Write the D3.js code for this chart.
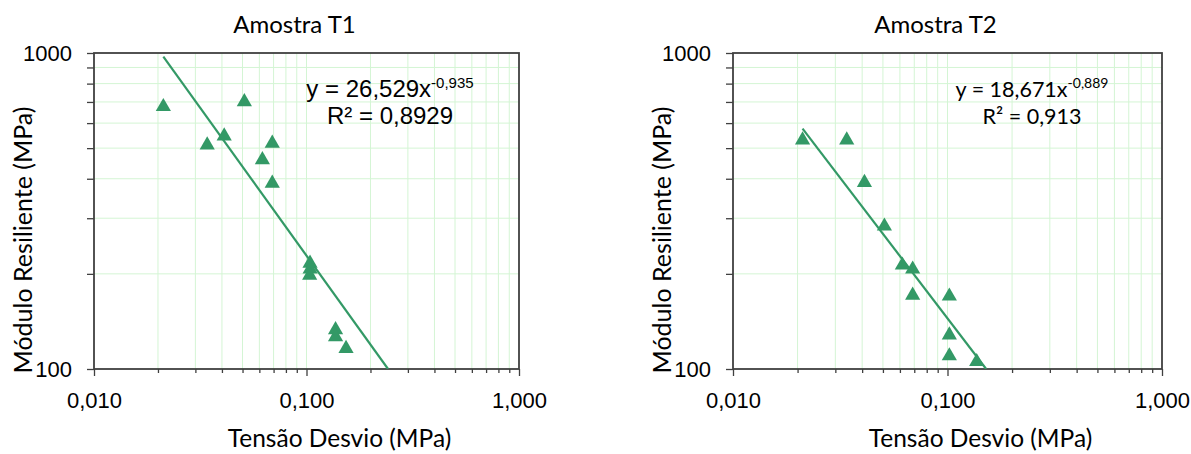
<!DOCTYPE html>
<html>
<head>
<meta charset="utf-8">
<script src="https://cdn.jsdelivr.net/npm/d3@7"></script>
<style>
  body { margin: 0; background: #fff; }
  svg text { fill: #000; }
</style>
</head>
<body>
<div id="chart"></div>
<script>
// data
var titles = ["Amostra T1", "Amostra T2"];
var t1X = [0.0212, 0.0341, 0.0410, 0.0510, 0.0620, 0.0690, 0.0690, 0.1039, 0.1040, 0.1035, 0.1370, 0.1370, 0.1535];
var t1Y = [676, 511, 546, 701, 459, 518, 387, 216, 207, 198, 133, 126.5, 116];
var t2X = [0.0211, 0.0339, 0.0410, 0.0508, 0.0616, 0.0688, 0.0688, 0.1020, 0.1020, 0.1020, 0.1368];
var t2Y = [530, 530, 389, 283, 213, 207, 171, 170, 128, 110, 105.5];
// trend lines y = a * x^b
var fitA = [26.529, 18.671];
var fitB = [-0.935, -0.889];
var eqText = ["y = 26,529x", "y = 18,671x"];
var eqExp = ["-0,935", "-0,889"];
var r2Text = ["R² = 0,8929", "R² = 0,913"];
var xTicks = [0.01, 0.1, 1];
var xTickLabels = ["0,010", "0,100", "1,000"];
var yTicks = [100, 1000];
var yTickLabels = ["100", "1000"];

var W = 1191, H = 454;
var svg = d3.select("#chart").append("svg")
  .attr("width", W).attr("height", H);

var green = "#339966";
var gridColor = "#d4f5d4";
var font = "Lato, 'Open Sans', sans-serif";
var arial = "'Liberation Sans', Arial, sans-serif";

function panel(i, xs, ys, left, right, eqFont, eqSize, expSize) {
  var top = 53, bottom = 369;
  var x = d3.scaleLog().domain([0.01, 1]).range([left, right]);
  var y = d3.scaleLog().domain([100, 1000]).range([bottom, top]);

  var minorX = [];
  [0.01, 0.1].forEach(function(d) {
    for (var k = 2; k <= 9; k++) minorX.push(d * k);
  });
  var minorY = [];
  for (var k = 2; k <= 9; k++) minorY.push(100 * k);

  var g = svg.append("g");

  // grid
  g.selectAll(".vg").data(minorX.concat([0.1])).enter().append("line")
    .attr("x1", d => x(d)).attr("x2", d => x(d))
    .attr("y1", top).attr("y2", bottom)
    .attr("stroke", gridColor).attr("stroke-width", 1);
  g.selectAll(".hg").data(minorY).enter().append("line")
    .attr("x1", left).attr("x2", right)
    .attr("y1", d => y(d)).attr("y2", d => y(d))
    .attr("stroke", gridColor).attr("stroke-width", 1);

  // axes
  var xMajor = g.append("g").attr("transform", "translate(0," + bottom + ")")
    .call(d3.axisBottom(x).tickValues(xTicks).tickSize(7).tickPadding(16)
      .tickFormat((d, j) => xTickLabels[j]));
  var xMinor = g.append("g").attr("transform", "translate(0," + bottom + ")")
    .call(d3.axisBottom(x).tickValues(minorX).tickSize(4).tickFormat(""));
  var yMajor = g.append("g").attr("transform", "translate(" + left + ",0)")
    .call(d3.axisLeft(y).tickValues(yTicks).tickSize(7).tickPadding(15)
      .tickFormat((d, j) => yTickLabels[j]));
  var yMinor = g.append("g").attr("transform", "translate(" + left + ",0)")
    .call(d3.axisLeft(y).tickValues(minorY).tickSize(7).tickFormat(""));
  [xMajor, xMinor, yMajor, yMinor].forEach(function(a) {
    a.select(".domain").remove();
    a.selectAll(".tick line").attr("stroke", "#404040").attr("stroke-width", 1.3);
    a.selectAll("text").style("font-family", arial).style("font-size", "22px").attr("fill", "#000");
  });

  // border
  g.append("rect")
    .attr("x", left).attr("y", top)
    .attr("width", right - left).attr("height", bottom - top)
    .attr("fill", "none").attr("stroke", "#404040").attr("stroke-width", 1.8);

  // trend line, clipped to plot area
  svg.append("clipPath").attr("id", "clip" + i).append("rect")
    .attr("x", left).attr("y", top).attr("width", right - left).attr("height", bottom - top);
  var x0 = d3.min(xs);
  var x1 = Math.pow(100 / fitA[i], 1 / fitB[i]);
  var line = d3.line().x(d => x(d)).y(d => y(fitA[i] * Math.pow(d, fitB[i])));
  g.append("path")
    .datum([x0, x1])
    .attr("d", line)
    .attr("clip-path", "url(#clip" + i + ")")
    .attr("fill", "none").attr("stroke", green).attr("stroke-width", 2.2);

  // points
  g.selectAll(".pt").data(xs).enter().append("path")
    .attr("d", d3.symbol().type(d3.symbolTriangle).size(100))
    .attr("transform", (d, j) => "translate(" + x(d) + "," + y(ys[j]) + ")")
    .attr("fill", green);

  // equation
  var cx = i === 0 ? 390 : 1032;
  var eq = g.append("text").attr("x", cx).attr("y", 97)
    .attr("text-anchor", "middle")
    .style("font-family", eqFont).style("font-size", eqSize + "px");
  eq.append("tspan").text(eqText[i]);
  eq.append("tspan").attr("dy", -9).style("font-size", expSize + "px").text(eqExp[i]);
  g.append("text").attr("x", cx).attr("y", 124)
    .attr("text-anchor", "middle")
    .style("font-family", eqFont).style("font-size", eqSize + "px")
    .text(r2Text[i]);

  // titles
  g.append("text").attr("x", (left + right) / 2 - 12).attr("y", 33)
    .attr("text-anchor", "middle")
    .style("font-family", font).style("font-size", "24px")
    .text(titles[i]);
  g.append("text").attr("x", (left + right) / 2 + 33).attr("y", 447)
    .attr("text-anchor", "middle")
    .style("font-family", font).style("font-size", "24.5px")
    .text("Tensão Desvio (MPa)");
  g.append("text")
    .attr("transform", "translate(" + (left - 62) + "," + 240 + ") rotate(-90)")
    .attr("text-anchor", "middle")
    .style("font-family", font).style("font-size", "25px")
    .text("Módulo Resiliente (MPa)");
}

panel(0, t1X, t1Y, 94, 519, arial, 24, 15);
panel(1, t2X, t2Y, 733, 1162, font, 21.5, 14);
</script>
</body>
</html>
